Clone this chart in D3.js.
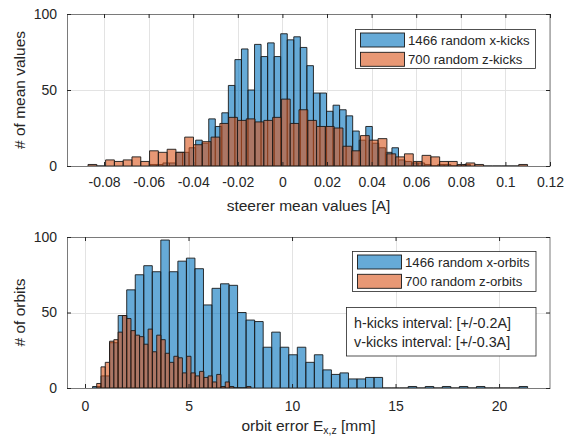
<!DOCTYPE html>
<html>
<head>
<meta charset="utf-8">
<script src="https://cdn.jsdelivr.net/npm/d3@7"></script>
<style>
body { margin: 0; background: #fff; }
svg { display: block; }
text { font-family: "Liberation Sans", Arial, sans-serif; fill: #262626; }
</style>
</head>
<body>
<div id="chart"></div>
<script>
// ---- top panel: steerer mean values [A] ----
var kickXFirstEdge = -0.05944, kickXBinWidth = 0.002934;
var kickXCounts = [1, 1, 2, 2, 9, 9, 12, 17, 15, 31, 26, 35, 53, 70, 77, 50, 80, 72, 81, 72,
  87, 83, 85, 78, 66, 48, 48, 36, 40, 37, 33, 23, 17, 26, 15, 12, 9, 12, 4, 3,
  2, 2, 1, 0, 1, 1, 0, 0, 1];
var kickZFirstEdge = -0.08717, kickZBinWidth = 0.003942;
var kickZCounts = [1, 0, 4, 3, 4, 6, 3, 10, 9, 11, 9, 19, 14, 16, 19, 28, 32, 30, 31, 29,
  30, 32, 44, 28, 37, 30, 26, 26, 25, 13, 10, 20, 17, 18, 8, 6, 8, 3, 7, 6,
  3, 3, 1, 2, 1, 0, 0, 0, 0, 1];
var kickTicks = [-0.08, -0.06, -0.04, -0.02, 0, 0.02, 0.04, 0.06, 0.08, 0.1, 0.12];
var kickTickLabels = ["-0.08", "-0.06", "-0.04", "-0.02", "0", "0.02", "0.04", "0.06", "0.08", "0.1", "0.12"];
var kickLegend = ["1466 random x-kicks", "700 random z-kicks"];

// ---- bottom panel: orbit error [mm] ----
var orbitXFirstEdge = 0.366, orbitXBinWidth = 0.412;
var orbitXCounts = [1, 8, 30, 48, 65, 75, 81, 77, 98, 77, 84, 86, 79, 55, 66, 69, 68, 50, 45, 44,
  27, 37, 27, 22, 27, 17, 22, 12, 9, 10, 6, 6, 7, 7, 0, 0, 0, 1, 0, 1,
  0, 1, 0, 1, 0, 1, 0, 0, 0, 0, 1];
var orbitZFirstEdge = 0.565, orbitZBinWidth = 0.207;
var orbitZCounts = [3, 14, 17, 31, 32, 37, 48, 46, 38, 35, 34, 29, 39, 24, 35, 32, 23, 17, 21, 20,
  10, 21, 10, 8, 11, 7, 8, 4, 9, 1, 4, 1, 0, 0, 0, 1];
var orbitTicks = [0, 5, 10, 15, 20];
var orbitTickLabels = ["0", "5", "10", "15", "20"];
var orbitLegend = ["1466 random x-orbits", "700 random z-orbits"];
var noteLines = ["h-kicks interval: [+/-0.2A]", "v-kicks interval: [+/-0.3A]"];

var countTicks = [0, 50, 100];

var blue = "rgb(0,114,189)", orange = "rgb(217,83,25)";

var svg = d3.select("#chart").append("svg")
  .attr("width", 572).attr("height", 437);

function toBins(first, width, counts) {
  return counts.map(function(c, i) {
    return {x0: first + i * width, x1: first + (i + 1) * width, n: c};
  });
}

function panel(o) {
  var x = d3.scaleLinear().domain(o.xDomain).range([67, 550]);
  var y = d3.scaleLinear().domain([0, 100]).range([o.bottom, o.top]);
  var g = svg.append("g");

  // grid
  var grid = g.append("g").attr("stroke", "#e3e3e3");
  grid.selectAll(".gx").data(o.xTicks).enter().append("line")
    .attr("x1", d => Math.round(x(d)) + 0.5).attr("x2", d => Math.round(x(d)) + 0.5)
    .attr("y1", o.top).attr("y2", o.bottom);
  grid.selectAll(".gy").data(countTicks).enter().append("line")
    .attr("y1", d => Math.round(y(d)) + 0.5).attr("y2", d => Math.round(y(d)) + 0.5)
    .attr("x1", 67).attr("x2", 550);

  // bars
  o.series.forEach(function(s) {
    g.append("g").selectAll("path").data(s.bins).enter().append("path")
      .attr("d", function(d) {
        var a = x(d.x0), b = x(d.x1), y0 = y(0), y1 = y(d.n);
        return "M" + a + "," + y0 + "V" + y1 + "H" + b + "V" + y0 + "Z";
      })
      .attr("fill", s.color).attr("fill-opacity", 0.6)
      .attr("stroke", "#1a1a1a").attr("stroke-width", 0.9);
  });

  // box
  g.append("rect").attr("x", 67.5).attr("y", o.top + 0.5)
    .attr("width", 482.5).attr("height", o.bottom - o.top)
    .attr("fill", "none").attr("stroke", "#7a7a7a");

  // axes, ticks inward
  var xb = g.append("g").attr("transform", "translate(0," + o.bottom + ")")
    .call(d3.axisBottom(x).tickValues(o.xTicks).tickSize(-4).tickPadding(o.xPad)
      .tickFormat((d, i) => o.xLabels[i]));
  var xt = g.append("g").attr("transform", "translate(0," + o.top + ")")
    .call(d3.axisTop(x).tickValues(o.xTicks).tickSize(-4).tickFormat(""));
  var yl = g.append("g").attr("transform", "translate(67,0)")
    .call(d3.axisLeft(y).tickValues(countTicks).tickSize(-4).tickPadding(10));
  var yr = g.append("g").attr("transform", "translate(550,0)")
    .call(d3.axisRight(y).tickValues(countTicks).tickSize(-4).tickFormat(""));
  [xb, xt, yl, yr].forEach(function(a) {
    a.select(".domain").remove();
    a.selectAll("line").attr("stroke", "#262626");
    a.selectAll("text").attr("font-size", 14).attr("fill", "#262626")
      .attr("font-family", "Liberation Sans, Arial, sans-serif");
  });

  // axis labels
  var xl = g.append("text").attr("x", 308.5).attr("y", o.xLabelY)
    .attr("text-anchor", "middle").attr("font-size", 15.5);
  o.xLabel(xl);
  g.append("text")
    .attr("transform", "translate(25," + ((o.top + o.bottom) / 2) + ") rotate(-90)")
    .attr("text-anchor", "middle").attr("font-size", 15.5).text(o.yLabel);

  // legend
  var L = o.legend;
  g.append("rect").attr("x", L.x).attr("y", L.y).attr("width", L.w).attr("height", L.h)
    .attr("fill", "#fff").attr("stroke", "#262626").attr("stroke-width", 0.8);
  o.series.forEach(function(s, i) {
    var sy = L.y + 3.5 + i * 19.3;
    g.append("rect").attr("x", L.x + 5).attr("y", sy).attr("width", 44).attr("height", 14)
      .attr("fill", s.color).attr("fill-opacity", 0.6)
      .attr("stroke", "#1a1a1a").attr("stroke-width", 0.9);
    g.append("text").attr("x", L.x + 52.5).attr("y", sy + 12)
      .attr("font-size", 13.2).text(s.name);
  });
  return g;
}

panel({
  top: 14, bottom: 166, xDomain: [-0.0966, 0.12],
  xTicks: kickTicks, xLabels: kickTickLabels, xPad: 11,
  xLabelY: 211,
  xLabel: function(t) { t.text("steerer mean values [A]"); },
  yLabel: "# of mean values",
  legend: {x: 355.5, y: 29.5, w: 180, h: 39},
  series: [
    {bins: toBins(kickXFirstEdge, kickXBinWidth, kickXCounts), color: blue, name: kickLegend[0]},
    {bins: toBins(kickZFirstEdge, kickZBinWidth, kickZCounts), color: orange, name: kickLegend[1]}
  ]
});

var gb = panel({
  top: 237, bottom: 388, xDomain: [-0.87, 22.46],
  xTicks: orbitTicks, xLabels: orbitTickLabels, xPad: 13,
  xLabelY: 431,
  xLabel: function(t) {
    t.append("tspan").text("orbit error E");
    t.append("tspan").attr("font-size", 10.5).attr("dy", 3).text("x,z");
    t.append("tspan").attr("dy", -3).text(" [mm]");
  },
  yLabel: "# of orbits",
  legend: {x: 352.5, y: 251.5, w: 183.5, h: 40},
  series: [
    {bins: toBins(orbitXFirstEdge, orbitXBinWidth, orbitXCounts), color: blue, name: orbitLegend[0]},
    {bins: toBins(orbitZFirstEdge, orbitZBinWidth, orbitZCounts), color: orange, name: orbitLegend[1]}
  ]
});

// interval note box
gb.append("rect").attr("x", 346.5).attr("y", 307.5).attr("width", 189.5).attr("height", 48.5)
  .attr("fill", "#fff").attr("stroke", "#262626").attr("stroke-width", 0.8);
noteLines.forEach(function(s, i) {
  gb.append("text").attr("x", 354).attr("y", 327.5 + i * 19).attr("font-size", 14.3).text(s);
});
</script>
</body>
</html>
